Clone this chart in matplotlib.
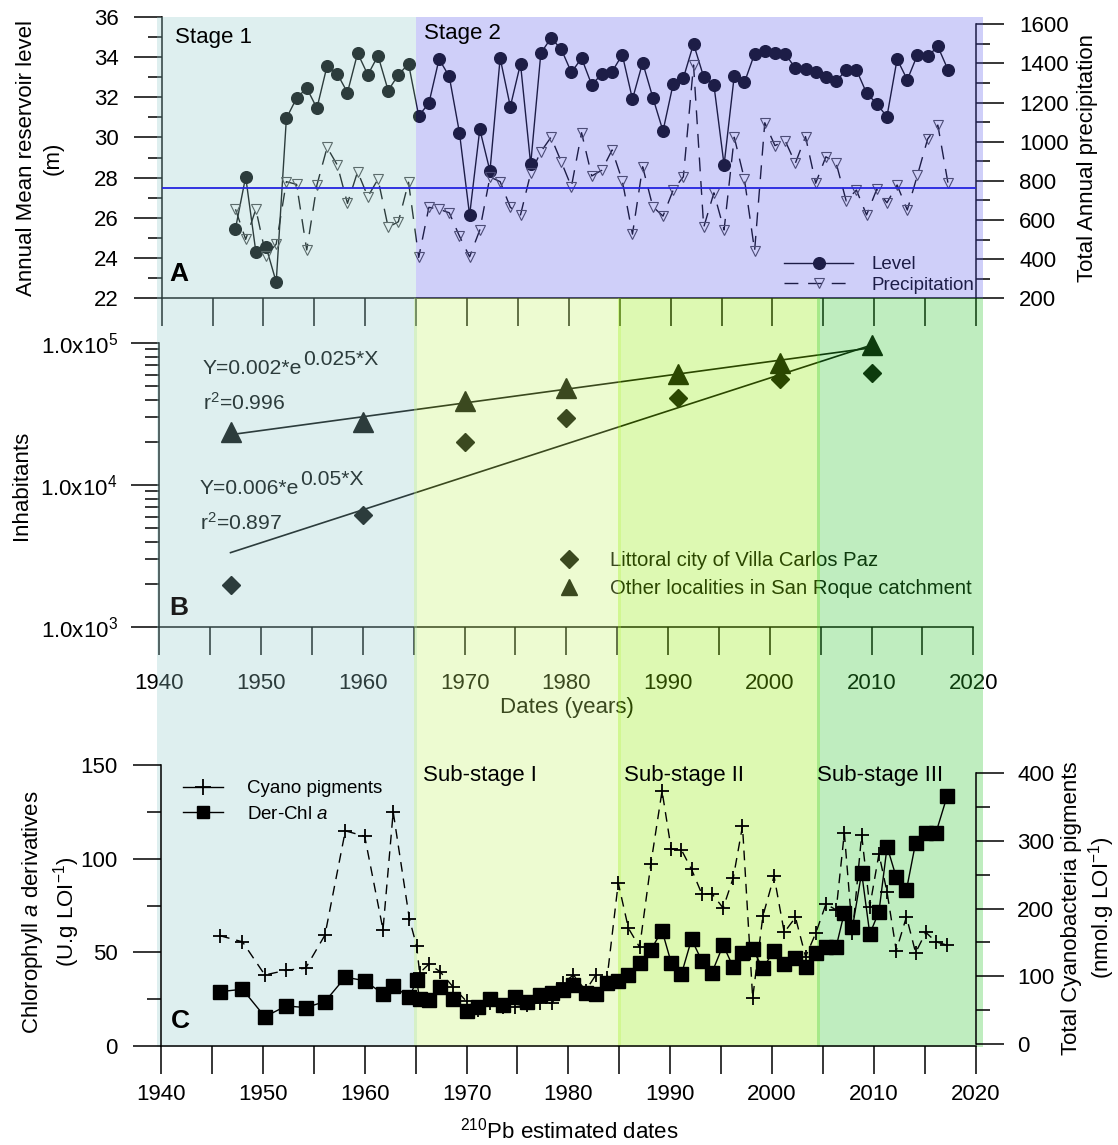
import numpy as np
import matplotlib
matplotlib.use('Agg')
import matplotlib.pyplot as plt
from matplotlib.lines import Line2D
from matplotlib.ticker import MultipleLocator, LogLocator, FuncFormatter, NullFormatter

plt.rcParams['font.family'] = ['Liberation Sans', 'DejaVu Sans']
plt.rcParams['mathtext.fontset'] = 'custom'
plt.rcParams['mathtext.rm'] = 'Liberation Sans'
plt.rcParams['mathtext.it'] = 'Liberation Sans:italic'
plt.rcParams['mathtext.bf'] = 'Liberation Sans:bold'
plt.rcParams['font.size'] = 16

# ---------------- data ----------------
# Panel A: annual mean reservoir level (m) and total annual precipitation (mm)
level_years = np.arange(1947, 2018)
reservoir_level = [25.47, 28.04, 24.31, 24.56, 22.81, 30.95, 31.95, 32.45, 31.45, 33.56,
                   33.16, 32.23, 34.19, 33.11, 34.06, 32.33, 33.11, 33.66, 31.07, 31.70,
                   33.89, 33.03, 30.24, 26.13, 30.40, 28.33, 33.94, 31.53, 33.66, 28.66,
                   34.19, 34.94, 34.39, 33.23, 33.94, 32.61, 33.16, 33.27, 34.11, 31.90,
                   33.72, 31.98, 30.32, 32.66, 32.95, 34.65, 33.00, 32.61, 28.63, 33.06,
                   32.73, 34.16, 34.27, 34.22, 34.16, 33.44, 33.39, 33.23, 33.00, 32.78,
                   33.36, 33.36, 32.20, 31.67, 31.03, 33.89, 32.86, 34.11, 34.03, 34.52,
                   33.36]
precipitation = [655, 501, 655, 416, 477, 796, 782, 447, 779, 971,
                 881, 685, 847, 719, 809, 563, 591, 793, 409, 665,
                 655, 637, 518, 412, 549, 820, 796, 665, 626, 839,
                 949, 1023, 898, 770, 1046, 825, 855, 958, 801, 528,
                 872, 668, 620, 753, 821, 1392, 563, 739, 549, 1023,
                 808, 443, 1097, 980, 1005, 890, 1026, 788, 923, 893,
                 697, 753, 626, 757, 688, 779, 651, 830, 1014, 1085,
                 788]
mean_precipitation = 765

# Panel B: census population
census_years = [1947, 1960, 1970, 1980, 1991, 2001, 2010]
villa_carlos_paz = [1980, 6150, 20000, 29500, 40800, 55500, 61800]
other_localities = [23600, 27900, 39200, 48000, 60100, 72300, 96300]

# Panel C: sediment core pigments
sample_dates = [1945.8, 1948.0, 1950.2, 1952.3, 1954.2, 1956.1, 1958.1, 1960.0, 1961.8, 1962.8,
                1964.4, 1965.1, 1965.4, 1966.3, 1967.4, 1968.7, 1970.0, 1971.1, 1972.3, 1973.6,
                1974.8, 1975.9, 1977.2, 1978.4, 1979.5, 1980.5, 1981.7, 1982.7, 1983.8, 1984.9,
                1985.9, 1987.0, 1988.1, 1989.2, 1990.1, 1991.1, 1992.1, 1993.1, 1994.1, 1995.2,
                1996.2, 1997.1, 1998.1, 1999.1, 2000.2, 2001.2, 2002.3, 2003.3, 2004.3, 2005.3,
                2006.3, 2007.1, 2007.9, 2008.8, 2009.6, 2010.5, 2011.3, 2012.2, 2013.2, 2014.1,
                2015.1, 2016.1, 2017.2]
der_chl_a = [29.0, 30.3, 15.6, 21.4, 20.5, 23.7, 36.7, 34.9, 27.8, 32.0,
             26.0, 35.2, 24.9, 24.6, 31.7, 24.9, 18.9, 21.0, 24.9, 21.9,
             26.0, 23.7, 27.2, 28.1, 29.9, 32.6, 28.5, 27.8, 33.8, 34.9,
             37.9, 44.5, 51.3, 61.6, 44.5, 38.3, 57.0, 45.5, 39.1, 53.9,
             42.0, 49.5, 51.6, 41.5, 50.9, 43.6, 46.8, 42.0, 49.5, 52.7,
             53.0, 71.2, 63.4, 92.5, 59.8, 71.7, 106.4, 90.1, 83.3, 108.5,
             113.9, 113.9, 133.5]
cyano_pigments = [160, 151, 102, 109, 112, 161, 315, 307, 169, 343,
                  184, 145, 105, 118, 107, 84, 63, 50, 60, 55,
                  55, 58, 61, 60, 90, 102, 79, 102, 97, 238,
                  171, 143, 266, 374, 288, 287, 258, 222, 222, 201,
                  246, 322, 68, 189, 248, 165, 187, 129, 164, 207,
                  198, 312, 164, 309, 203, 281, 224, 138, 188, 135,
                  165, 151, 146]

# stage limits (years)
stage_boundary = 1965
substage_bounds = [1965, 1985, 2004.6]
shade_range = (1939.58, 2020.68)

# ---------------- layout helpers ----------------
W, H = 1118, 1145
fig = plt.figure(figsize=(W / 100, H / 100), dpi=100)
fig.patch.set_facecolor('white')


def box(x0, y0, x1, y1):
    return [x0 / W, 1 - y1 / H, (x1 - x0) / W, (y1 - y0) / H]


def fpos(x, y):
    return (x / W, 1 - y / H)


ALPHA = 0.3
col_stage1 = '#94caca'
col_stage2 = '#6262ee'
col_sub1 = '#c6f569'
col_sub2 = '#91ee00'
col_sub3 = '#2dc62d'
LW_AX = 1.1
FS = 16          # tick labels, axis labels, stage labels
FS_LEG = 13.5    # legends of panels A and C
FS_B = 14.6      # legend of panel B
FS_EQ = 15.2     # equations of panel B


def tick_style(ax, axis, pad, major=20, minor=10):
    ax.tick_params(axis=axis, which='major', length=major, width=LW_AX, direction='out',
                   pad=pad, labelsize=FS)
    ax.tick_params(axis=axis, which='minor', length=minor, width=LW_AX, direction='out')


# ================= Panel A =================
axA = fig.add_axes(box(161.7, 16.7, 976, 298.3), zorder=1)
axA.set_facecolor('none')
axA.set_xlim(1940, 2020)
axA.set_ylim(22, 36)
lvl_line, = axA.plot(level_years + 0.25, reservoir_level, '-o', color='black', lw=1.0,
                     ms=8.4, zorder=2, clip_on=False)
for s in ('top', 'right'):
    axA.spines[s].set_visible(False)
for s in ('left', 'bottom'):
    axA.spines[s].set_linewidth(LW_AX)
axA.yaxis.set_major_locator(MultipleLocator(2))
axA.yaxis.set_minor_locator(MultipleLocator(1))
axA.xaxis.set_major_locator(MultipleLocator(5))
tick_style(axA, 'y', pad=11)
axA.tick_params(axis='x', which='major', length=20, width=LW_AX, direction='out', labelbottom=False)

axA2 = axA.twinx()
axA2.set_zorder(1.05)
axA2.set_facecolor('none')
axA2.set_ylim(200, 1638.8)
pr_line, = axA2.plot(level_years + 0.25, precipitation, color='black', lw=1.0, dashes=(10, 7),
                     marker='v', ms=7.5, mfc='none', mec='#444444', mew=0.8, zorder=2,
                     clip_on=False)
axA2.axhline(mean_precipitation, color='#2424e0', lw=1.3, zorder=4)
axA2.axvspan(shade_range[0], stage_boundary, color=col_stage1, alpha=ALPHA, lw=0,
             zorder=3, clip_on=False)
axA2.axvspan(stage_boundary, shade_range[1], color=col_stage2, alpha=ALPHA, lw=0,
             zorder=3, clip_on=False)
for s in ('top', 'left', 'bottom'):
    axA2.spines[s].set_visible(False)
axA2.spines['right'].set_bounds(200, 1600)
axA2.spines['right'].set_linewidth(LW_AX)
axA2.yaxis.set_major_locator(MultipleLocator(200))
axA2.yaxis.set_minor_locator(MultipleLocator(100))
tick_style(axA2, 'y', pad=11)

legA = axA2.legend([lvl_line, pr_line], ['Level', 'Precipitation'], loc='lower right',
                   bbox_to_anchor=fpos(974, 294), bbox_transform=fig.transFigure,
                   frameon=False, handlelength=3.7, handletextpad=0.95, labelspacing=0.2,
                   borderpad=0, borderaxespad=0, fontsize=FS_LEG)
legA.set_zorder(2.5)

axA2.text(*fpos(175, 38), 'Stage 1', transform=fig.transFigure, ha='left', va='center',
          fontsize=FS, zorder=5)
axA2.text(*fpos(424, 34), 'Stage 2', transform=fig.transFigure, ha='left', va='center',
          fontsize=FS, zorder=5)
axA2.text(*fpos(169, 274), 'A', transform=fig.transFigure, ha='left', va='center',
          fontsize=19, fontweight='bold', zorder=5)

fig.text(*fpos(40, 158), 'Annual Mean reservoir level\n(m)', rotation=90, ha='center',
         va='center', multialignment='center', linespacing=1.35, fontsize=FS)
fig.text(*fpos(1088, 158), 'Total Annual precipitation', rotation=90, ha='center',
         va='center', fontsize=FS)

# ================= Panel B =================
axB = fig.add_axes(box(159.3, 343, 973.3, 627), zorder=1)
axB.set_facecolor('none')
axB.set_xlim(1940, 2020)
axB.set_yscale('log')
axB.set_ylim(1e3, 1e5)
for vals in (villa_carlos_paz, other_localities):
    coef = np.polyfit(census_years, np.log(vals), 1)
    xx = np.array([min(census_years), max(census_years)])
    axB.plot(xx, np.exp(np.polyval(coef, xx)), color='black', lw=1.2, zorder=2)
axB.plot(census_years, villa_carlos_paz, 'D', color='black', ms=9.5, ls='none', zorder=3,
         clip_on=False)
axB.plot(census_years, other_localities, '^', color='black', ms=15, ls='none', zorder=3,
         clip_on=False)
for s in ('top', 'right'):
    axB.spines[s].set_visible(False)
for s in ('left', 'bottom'):
    axB.spines[s].set_linewidth(LW_AX)
axB.xaxis.set_major_locator(MultipleLocator(10))
axB.xaxis.set_minor_locator(MultipleLocator(5))
axB.tick_params(axis='x', which='both', length=20, width=LW_AX, direction='out', pad=13,
                labelsize=FS)
axB.yaxis.set_major_locator(LogLocator(base=10, numticks=10))
axB.yaxis.set_minor_locator(LogLocator(base=10, subs=np.arange(2, 10), numticks=20))
axB.yaxis.set_minor_formatter(NullFormatter())
axB.yaxis.set_major_formatter(FuncFormatter(lambda v, p: r'1.0x10$^{%d}$' % round(np.log10(v))))
tick_style(axB, 'y', pad=10)

handlesB = [Line2D([], [], marker='D', color='black', ms=9.5, ls='none'),
            Line2D([], [], marker='^', color='black', ms=11, ls='none')]
axB.legend(handlesB, ['Littoral city of Villa Carlos Paz', 'Other localities in San Roque catchment'],
           loc='upper left', bbox_to_anchor=fpos(553, 551), bbox_transform=fig.transFigure,
           frameon=False, handlelength=1.6, handletextpad=1.2, labelspacing=0.45,
           borderpad=0, borderaxespad=0, fontsize=FS_B)

t1 = axB.text(*fpos(203, 369), 'Y=0.002*e', transform=fig.transFigure, ha='left',
              va='center', fontsize=FS_EQ)
axB.annotate('0.025*X', xy=(1, 0.5), xycoords=t1, xytext=(0.8, 6.5),
             textcoords='offset points', ha='left', va='center', fontsize=FS_EQ)
axB.text(*fpos(203, 403), r'r$^{2}$=0.996', transform=fig.transFigure, ha='left',
         va='center', fontsize=FS_EQ)
t2 = axB.text(*fpos(200, 489), 'Y=0.006*e', transform=fig.transFigure, ha='left',
              va='center', fontsize=FS_EQ)
axB.annotate('0.05*X', xy=(1, 0.5), xycoords=t2, xytext=(0.8, 6.5),
             textcoords='offset points', ha='left', va='center', fontsize=FS_EQ)
axB.text(*fpos(200, 523), r'r$^{2}$=0.897', transform=fig.transFigure, ha='left',
         va='center', fontsize=FS_EQ)
axB.text(*fpos(567, 708), 'Dates (years)', transform=fig.transFigure, ha='center',
         va='center', fontsize=FS)

fig.text(*fpos(22, 485), 'Inhabitants', rotation=90, ha='center', va='center', fontsize=FS)

# ================= overlay shading for panels B and C =================
axO = fig.add_axes(box(161, 298, 975.7, 1047), zorder=2)
axO.set_xlim(1940, 2020)
axO.set_ylim(0, 1)
axO.set_axis_off()
ov = 0.15
edges = [shade_range[0]] + substage_bounds + [shade_range[1]]
cols = [col_stage1, col_sub1, col_sub2, col_sub3]
for i, c in enumerate(cols):
    lo = edges[i] - (ov if i > 0 else 0)
    hi = edges[i + 1] + (ov if i < len(cols) - 1 else 0)
    axO.axvspan(lo, hi, color=c, alpha=ALPHA, lw=0, clip_on=False)
axO.text(*fpos(169, 608), 'B', transform=fig.transFigure, ha='left', va='center',
         fontsize=19, fontweight='bold', color='#1a1a1a', zorder=5)

# ================= Panel C =================
axC = fig.add_axes(box(161, 765, 975.7, 1046), zorder=3.1)
axC.set_facecolor('none')
axC.set_xlim(1940, 2020)
axC.set_ylim(0, 150)
chl_line, = axC.plot(sample_dates, der_chl_a, '-s', color='black', lw=1.0, ms=9.5,
                     clip_on=False, zorder=3)
for s in ('top', 'right'):
    axC.spines[s].set_visible(False)
for s in ('left', 'bottom'):
    axC.spines[s].set_linewidth(LW_AX)
axC.xaxis.set_major_locator(MultipleLocator(10))
axC.xaxis.set_minor_locator(MultipleLocator(5))
axC.tick_params(axis='x', which='both', length=20, width=LW_AX, direction='out', pad=7,
                labelsize=FS)
axC.yaxis.set_major_locator(MultipleLocator(50))
axC.yaxis.set_minor_locator(MultipleLocator(25))
tick_style(axC, 'y', pad=11)

axC2 = axC.twinx()
axC2.set_zorder(3.0)
axC2.set_facecolor('none')
axC2.set_ylim(-2.96, 412.3)
cy_line, = axC2.plot(sample_dates, cyano_pigments, color='black', lw=1.0, dashes=(7, 5),
                     marker='+', ms=10, mew=1.3, clip_on=False)
for s in ('top', 'left', 'bottom'):
    axC2.spines[s].set_visible(False)
axC2.spines['right'].set_bounds(0, 400)
axC2.spines['right'].set_linewidth(LW_AX)
axC2.yaxis.set_major_locator(MultipleLocator(100))
axC2.yaxis.set_minor_locator(MultipleLocator(50))
tick_style(axC2, 'y', pad=10)

handlesC = [Line2D([], [], color='black', lw=1.0, marker='+', ms=12, mew=1.3),
            Line2D([], [], color='black', lw=1.0, marker='s', ms=8.5)]
axC.legend(handlesC, ['Cyano pigments', r'Der-Chl $\mathit{a}$'], loc='upper left',
           bbox_to_anchor=fpos(183, 780), bbox_transform=fig.transFigure, frameon=False,
           handlelength=2.13, handletextpad=1.26, labelspacing=0.45, borderpad=0,
           borderaxespad=0, fontsize=FS_LEG)

for label, xpx in zip(['Sub-stage I', 'Sub-stage II', 'Sub-stage III'], [423, 624, 817]):
    axC.text(*fpos(xpx, 775), label, transform=fig.transFigure, ha='left', va='center',
             fontsize=FS)
axC.text(*fpos(171, 1021), 'C', transform=fig.transFigure, ha='left', va='center',
         fontsize=19, fontweight='bold')
axC.text(*fpos(569, 1139), r'$^{210}$Pb estimated dates', transform=fig.transFigure,
         ha='center', va='baseline', fontsize=FS)

fig.text(*fpos(51, 912), r'Chlorophyll $\mathit{a}$ derivatives' + '\n' + r'(U.g LOI$^{-1}$)',
         rotation=90, ha='center', va='center', multialignment='center', linespacing=1.25,
         fontsize=FS)
fig.text(*fpos(1089, 908), 'Total Cyanobacteria pigments\n' + r'(nmol.g LOI$^{-1}$)',
         rotation=90, ha='center', va='center', multialignment='center', linespacing=1.2,
         fontsize=FS)

fig.savefig('out.png', dpi=100)
